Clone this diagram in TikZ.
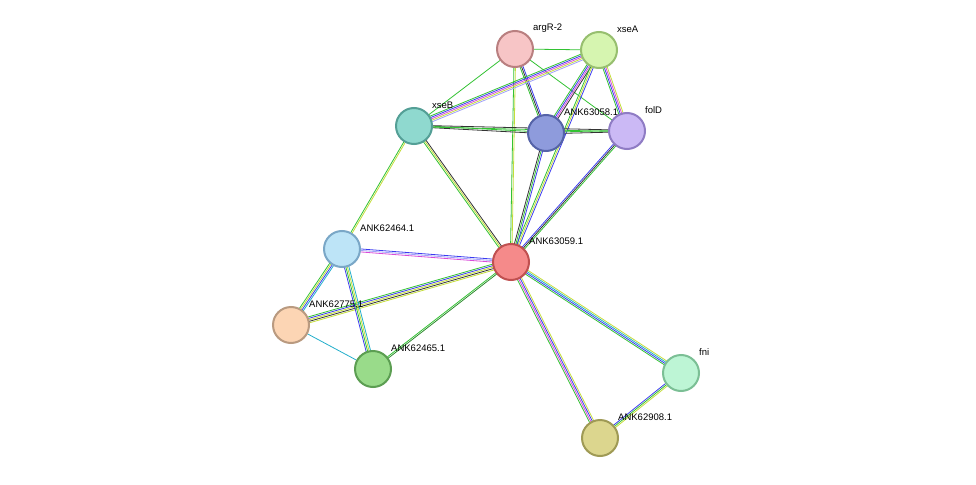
\documentclass[tikz,border=0pt]{standalone}
\usepackage{fontspec}
\setmainfont{Liberation Sans}
\usetikzlibrary{calc}
\definecolor{eg}{HTML}{33C233}
\definecolor{eb}{HTML}{3C3CF0}
\definecolor{em}{HTML}{D94CD9}
\definecolor{ey}{HTML}{C4DD3A}
\definecolor{ek}{HTML}{333333}
\definecolor{ec}{HTML}{22AECB}
\definecolor{el}{HTML}{A0A0F8}
\definecolor{ed}{HTML}{2E8B2E}
\newcommand\ed[3]{\def\nn{0}\foreach \c in {#3}{\xdef\nn{\the\numexpr\nn+1\relax}}%
\foreach \c [count=\i] in {#3}{\pgfmathsetmacro\o{(\i-(\nn+1)/2)*1.5}%
\draw[\c,line width=0.8pt] ($(#1)!\o pt!90:(#2)$) -- ($(#2)!\o pt!-90:(#1)$);}}
\tikzset{pn/.style={circle,minimum size=36pt,line width=2pt,inner sep=0pt},
lb/.style={anchor=west,font=\fontsize{9.5pt}{10pt}\selectfont,inner sep=0pt}}
\newcommand\pnode[6]{\definecolor{f#1}{HTML}{#4}\definecolor{s#1}{HTML}{#5}%
\node[pn,fill=f#1,draw=s#1] (#1) at (#2,#3) {};\node[lb] (#1l) at (#2+18,#3-21) {#6};}
\begin{document}
\begin{tikzpicture}[x=1pt,y=-1pt]
\useasboundingbox (0,0) rectangle (976,484);
\coordinate (a) at (515,49); \coordinate (xa) at (599,50); \coordinate (xb) at (414,126);
\coordinate (n58) at (546,133); \coordinate (fd) at (627,131); \coordinate (n59) at (511,262);
\coordinate (n64) at (342,249); \coordinate (n75) at (291,325); \coordinate (n65) at (373,369);
\coordinate (fn) at (681,373); \coordinate (n08) at (600,438);
\ed{a}{xa}{eg}
\ed{a}{xb}{eg}
\ed{a}{n58}{eg,ek,eb}
\ed{a}{fd}{eg}
\ed{a}{n59}{eg,ey}
\ed{xa}{xb}{eg,eb,em,ey,el}
\ed{xa}{n58}{eg,eb,em,ek}
\ed{xa}{fd}{eg,eb,em,ey}
\ed{xa}{n59}{eg,ey,eb}
\ed{xb}{n58}{ek,eg}
\ed{xb}{fd}{eg,ek}
\ed{xb}{n59}{eg,ey,ek}
\ed{xb}{n64}{eg,ey}
\ed{n58}{fd}{ek,eg}
\ed{n58}{n59}{ek,eg,eb}
\ed{fd}{n59}{eb,ek,eg}
\ed{n59}{n64}{eb,el,em}
\ed{n59}{n75}{eg,eb,ey,ek,ey}
\ed{n59}{n65}{eg,ed}
\ed{n59}{fn}{eg,eb,ec,ey}
\ed{n59}{n08}{eg,em,eb,ey}
\ed{n64}{n75}{eg,ey,eb,ec}
\ed{n64}{n65}{eb,eg,ey,ec}
\ed{n75}{n65}{ec}
\ed{fn}{n08}{eb,eg,ey}
\pnode{A}{515}{49}{F7C5C6}{B97F80}{argR-2}
\pnode{XA}{599}{50}{D6F5B0}{97BF6F}{xseA}
\pnode{XB}{414}{126}{8FD9CF}{549F96}{xseB}
\pnode{N58}{546}{133}{8E9BDC}{5563A8}{ANK63058.1}
\pnode{FD}{627}{131}{CBB9F5}{8F7CC4}{folD}
\pnode{N59}{511}{262}{F58A8A}{C05050}{ANK63059.1}
\pnode{N64}{342}{249}{BDE4F7}{7AA7C7}{ANK62464.1}
\pnode{N75}{291}{325}{FCD5B4}{B99A80}{ANK62775.1}
\pnode{N65}{373}{369}{99DB8A}{5C9E52}{ANK62465.1}
\pnode{FN}{681}{373}{BDF5D5}{7BBF95}{fni}
\pnode{N08}{600}{438}{DCD68E}{9F9A55}{ANK62908.1}
\end{tikzpicture}
\end{document}
